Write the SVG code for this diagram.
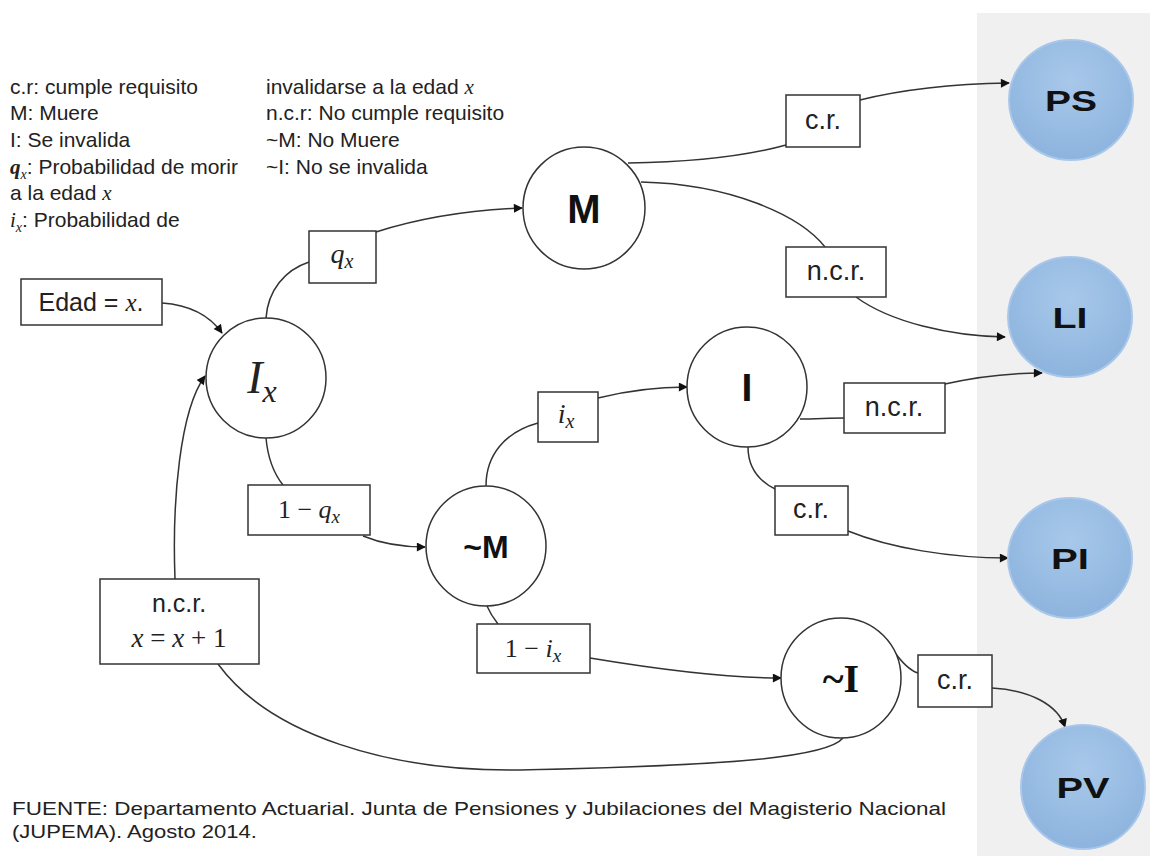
<svg xmlns="http://www.w3.org/2000/svg" width="1150" height="856" viewBox="0 0 1150 856">
<defs>
<marker id="arr" viewBox="0 0 10 10" refX="9" refY="5" markerWidth="10" markerHeight="9" markerUnits="userSpaceOnUse" orient="auto"><path d="M0,0 L10,5 L0,10 z" fill="#111"/></marker>
<radialGradient id="blue" cx="50%" cy="35%" r="65%"><stop offset="0" stop-color="#a8c8ea"/><stop offset="1" stop-color="#8db4de"/></radialGradient>
</defs>
<style>
.leg{font-family:"Liberation Sans",Arial,sans-serif;font-size:21px;fill:#222}
.mv{font-family:"Liberation Serif","DejaVu Serif",serif;font-style:italic}
.box{fill:#fff;stroke:#333;stroke-width:1.5}
.circ{fill:#fff;stroke:#333;stroke-width:1.5}
.bc{fill:url(#blue);stroke:#a9c7ea;stroke-width:2}
.lbl{font-family:"Liberation Sans",Arial,sans-serif;fill:#222;text-anchor:middle}
.math{font-family:"Liberation Serif","DejaVu Serif",serif;fill:#222;text-anchor:middle}
.nd{font-family:"Liberation Sans",Arial,sans-serif;font-weight:bold;fill:#111;text-anchor:middle}
.con{fill:none;stroke:#333;stroke-width:1.5}
.foot{font-family:"Liberation Sans",Arial,sans-serif;font-size:19px;fill:#222}
</style>
<rect x="977" y="13" width="173" height="843" fill="#f0f0f0"/>
<g id="legend">
<text class="leg" x="10" y="94">c.r: cumple requisito</text>
<text class="leg" x="10" y="120">M: Muere</text>
<text class="leg" x="10" y="147">I: Se invalida</text>
<text class="leg" x="10" y="174"><tspan class="mv" font-weight="bold">q</tspan><tspan class="mv" style="font-size:14px" dy="5">x</tspan><tspan dy="-5">: Probabilidad de morir</tspan></text>
<text class="leg" x="10" y="200">a la edad <tspan class="mv">x</tspan></text>
<text class="leg" x="10" y="227"><tspan class="mv">i</tspan><tspan class="mv" style="font-size:14px" dy="5">x</tspan><tspan dy="-5">: Probabilidad de</tspan></text>
<text class="leg" x="266" y="94">invalidarse a la edad <tspan class="mv">x</tspan></text>
<text class="leg" x="266" y="120">n.c.r: No cumple requisito</text>
<text class="leg" x="266" y="147">~M: No Muere</text>
<text class="leg" x="266" y="174">~I: No se invalida</text>
</g>
<g id="connectors">
<path class="con" d="M162,303 C190,305 210,316 222,333" marker-end="url(#arr)"/>
<path class="con" d="M175,579 C172,500 180,410 205,376" marker-end="url(#arr)"/>
<path class="con" d="M266,318 C268,290 285,270 309,262"/>
<path class="con" d="M376,232 C420,218 470,210 522,208" marker-end="url(#arr)"/>
<path class="con" d="M266,438 C268,460 275,475 283,485"/>
<path class="con" d="M363,536 C380,543 400,547 425,547" marker-end="url(#arr)"/>
<path class="con" d="M486,486 C486,455 505,432 538,423"/>
<path class="con" d="M598,398 C630,390 660,387 687,387" marker-end="url(#arr)"/>
<path class="con" d="M487,606 C490,613 494,619 498,624"/>
<path class="con" d="M590,658 C650,668 720,678 781,678" marker-end="url(#arr)"/>
<path class="con" d="M628,163 C700,162 750,155 786,145"/>
<path class="con" d="M860,100 C900,90 950,84 1009,83" marker-end="url(#arr)"/>
<path class="con" d="M641,182 C730,184 800,215 825,247"/>
<path class="con" d="M856,297 C890,322 950,336 1005,337" marker-end="url(#arr)"/>
<path class="con" d="M800,419 C815,419 830,418 844,418"/>
<path class="con" d="M945,384 C980,376 1010,373 1042,373" marker-end="url(#arr)"/>
<path class="con" d="M748,447 C748,468 760,482 777,490"/>
<path class="con" d="M848,531 C890,548 950,558 1008,558" marker-end="url(#arr)"/>
<path class="con" d="M893,650 C900,660 908,670 918,673"/>
<path class="con" d="M992,688 C1030,690 1058,705 1065,727" marker-end="url(#arr)"/>
<path class="con" d="M843,738 C825,760 700,766 520,770 C390,772 270,735 218,664"/>
</g>
<g id="edad"><rect class="box" x="21" y="279" width="141" height="46"/><text class="lbl" x="91" y="311" style="font-size:25px">Edad = <tspan class="mv">x</tspan>.</text></g>
<g id="Ix"><circle class="circ" cx="266" cy="378" r="60"/><text class="math" x="262" y="393" style="font-size:46px;font-style:italic">I<tspan style="font-size:32px" dy="9">x</tspan></text></g>
<g id="qx"><rect class="box" x="309" y="231" width="67" height="52"/><text class="math" x="342" y="263" style="font-size:28px;font-style:italic">q<tspan style="font-size:20px" dy="5">x</tspan></text></g>
<g id="M"><circle class="circ" cx="584" cy="208" r="61"/><text class="nd" x="584" y="223" style="font-size:40px">M</text></g>
<g id="cr1"><rect class="box" x="786" y="95" width="74" height="52"/><text class="lbl" x="823" y="129" style="font-size:27px">c.r.</text></g>
<g id="ncr1"><rect class="box" x="786" y="247" width="100" height="50"/><text class="lbl" x="836" y="280" style="font-size:27px">n.c.r.</text></g>
<g id="oneqx"><rect class="box" x="248" y="485" width="122" height="50"/><text class="math" x="309" y="518" style="font-size:26px">1 − <tspan font-style="italic">q</tspan><tspan font-style="italic" style="font-size:19px" dy="5">x</tspan></text></g>
<g id="notM"><circle class="circ" cx="486" cy="546" r="60"/><text class="nd" x="486" y="558" style="font-size:32px">~M</text></g>
<g id="ix"><rect class="box" x="538" y="392" width="60" height="50"/><text class="math" x="566" y="423" style="font-size:28px;font-style:italic">i<tspan style="font-size:20px" dy="5">x</tspan></text></g>
<g id="I"><circle class="circ" cx="747" cy="387" r="60"/><text class="nd" x="747" y="401" style="font-size:39px">I</text></g>
<g id="ncr2"><rect class="box" x="844" y="383" width="101" height="50"/><text class="lbl" x="894" y="416" style="font-size:27px">n.c.r.</text></g>
<g id="cr2"><rect class="box" x="775" y="486" width="73" height="49"/><text class="lbl" x="811" y="518" style="font-size:27px">c.r.</text></g>
<g id="ncrx"><rect class="box" x="100" y="579" width="159" height="85"/><text class="lbl" x="179" y="612" style="font-size:25px">n.c.r.</text><text class="math" x="179" y="647" style="font-size:27px"><tspan font-style="italic">x</tspan> = <tspan font-style="italic">x</tspan> + 1</text></g>
<g id="oneix"><rect class="box" x="477" y="624" width="113" height="49"/><text class="math" x="533" y="657" style="font-size:26px">1 − <tspan font-style="italic">i</tspan><tspan font-style="italic" style="font-size:19px" dy="5">x</tspan></text></g>
<g id="notI"><circle class="circ" cx="841" cy="678" r="60"/><text x="841" y="692" font-family="Liberation Serif,serif" font-weight="bold" font-size="40" fill="#111" text-anchor="middle">~I</text></g>
<g id="cr3"><rect class="box" x="918" y="655" width="74" height="52"/><text class="lbl" x="955" y="689" style="font-size:27px">c.r.</text></g>
<g id="PS"><ellipse class="bc" cx="1071" cy="100" rx="62" ry="60"/><text class="nd" x="1071" y="111" style="font-size:30px" textLength="52" lengthAdjust="spacingAndGlyphs">PS</text></g>
<g id="LI"><ellipse class="bc" cx="1070" cy="317" rx="62" ry="60"/><text class="nd" x="1070" y="328" style="font-size:30px" textLength="35" lengthAdjust="spacingAndGlyphs">LI</text></g>
<g id="PI"><ellipse class="bc" cx="1070" cy="558" rx="62" ry="60"/><text class="nd" x="1070" y="569" style="font-size:30px" textLength="38" lengthAdjust="spacingAndGlyphs">PI</text></g>
<g id="PV"><ellipse class="bc" cx="1083" cy="787" rx="62" ry="62"/><text class="nd" x="1083" y="798" style="font-size:30px" textLength="53" lengthAdjust="spacingAndGlyphs">PV</text></g>
<text class="foot" x="12" y="815" textLength="934" lengthAdjust="spacingAndGlyphs">FUENTE: Departamento Actuarial. Junta de Pensiones y Jubilaciones del Magisterio Nacional</text>
<text class="foot" x="12" y="838" textLength="245" lengthAdjust="spacingAndGlyphs">(JUPEMA). Agosto 2014.</text>
</svg>
